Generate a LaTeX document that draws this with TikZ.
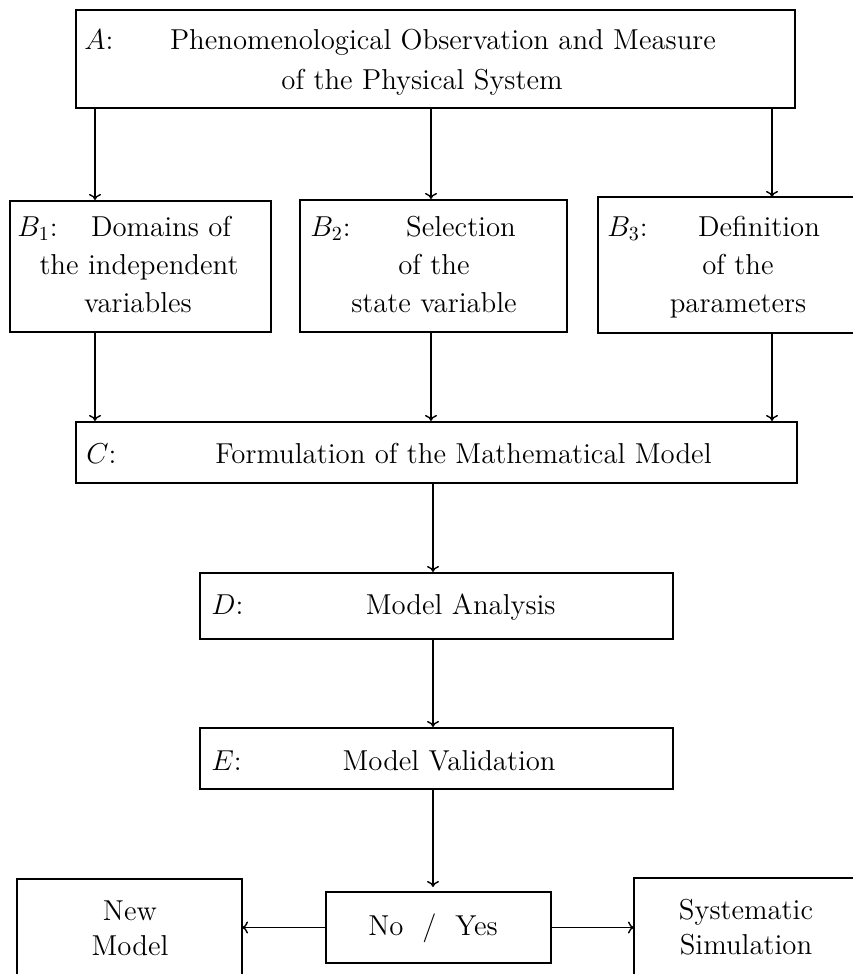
\documentclass[tikz,border=0pt]{standalone}
\usetikzlibrary{arrows.meta}
\begin{document}
\begin{tikzpicture}[x=0.5pt,y=-0.5pt,
  every node/.style={font=\fontsize{14.4}{17}\selectfont},
  boxline/.style={line width=1pt},
  frame/.style={draw, boxline, rectangle, inner sep=0pt, anchor=center},
  openframe/.style={draw=none, rectangle, inner sep=0pt, outer sep=0pt, anchor=center},
  txt/.style={inner sep=0pt, anchor=base},
  lbl/.style={inner sep=0pt, anchor=base west},
  rtxt/.style={inner sep=0pt, anchor=base east},
  arr/.style={line width=0.7pt, -{To[length=3pt,width=6pt]}}
]
\useasboundingbox (0,0) rectangle (853,974);
\fill[white] (0,0) rectangle (853,974);

% boxes
\node[frame, minimum width=359.5pt, minimum height=49pt] (A) at (435.5,59) {};
\node[frame, minimum width=130.5pt, minimum height=65.5pt] (B1) at (140.5,266.5) {};
\node[frame, minimum width=133.5pt, minimum height=66pt] (B2) at (433.5,266) {};
\node[openframe, minimum width=127.5pt, minimum height=68pt] (B3) at (725.5,265) {};
\draw[boxline] (B3.north east) -- (B3.north west) -- (B3.south west) -- (B3.south east);
\node[frame, minimum width=360.5pt, minimum height=30.5pt] (C) at (436.5,452.5) {};
\node[frame, minimum width=236.5pt, minimum height=33pt] (D) at (436.5,606) {};
\node[frame, minimum width=236.5pt, minimum height=30.5pt] (E) at (436.5,758.5) {};
\node[frame, minimum width=112.5pt, minimum height=35.5pt] (NY) at (438.5,927.5) {};
\node[openframe, minimum width=112.5pt, minimum height=47.5pt] (New) at (129.5,926.5) {};
\draw[boxline] (New.south west) -- (New.north west) -- (New.north east) -- (New.south east);
\node[openframe, minimum width=109.5pt, minimum height=48pt] (Sys) at (743.5,926) {};
\draw[boxline] (Sys.north east) -- (Sys.north west) -- (Sys.south west);

% texts
\node[lbl] (Al) at (84,50) {$A$:};
\node[txt] (At1) at (443,50) {Phenomenological Observation and Measure};
\node[txt] (At2) at (422,90) {of the Physical System};

\node[lbl] (B1l) at (17,236) {$B_1$:};
\node[txt] (B1t1) at (161,236) {Domains of};
\node[txt] (B1t2) at (139,274) {the independent};
\node[txt] (B1t3) at (138,312) {variables};

\node[lbl] (B2l) at (310,236) {$B_2$:};
\node[txt] (B2t1) at (461,236) {Selection};
\node[txt] (B2t2) at (434,274) {of the};
\node[txt] (B2t3) at (434,312) {state variable};

\node[lbl] (B3l) at (607,236) {$B_3$:};
\node[txt] (B3t1) at (759,236) {Definition};
\node[txt] (B3t2) at (738,274) {of the};
\node[txt] (B3t3) at (738,312) {parameters};

\node[lbl] (Cl) at (86,463) {$C$:};
\node[rtxt] (Ct) at (712,463) {Formulation of the Mathematical Model};

\node[lbl] (Dl) at (211,614) {$D$:};
\node[rtxt] (Dt) at (556,614) {Model Analysis};

\node[lbl] (El) at (211,770) {$E$:};
\node[rtxt] (Et) at (556,770) {Model Validation};

\node[txt] (NYt) at (433,935) {No~~/~~Yes};

\node[txt] (Newt1) at (130,920) {New};
\node[txt] (Newt2) at (130,955) {Model};

\node[txt] (Syst1) at (746,919) {Systematic};
\node[txt] (Syst2) at (746,954) {Simulation};

% arrow columns
\coordinate (c1) at (95,0);
\coordinate (c2) at (431,0);
\coordinate (c3) at (772,0);
\coordinate (c4) at (433,0);

\draw[arr] (A.south -| c1) -- (B1.north -| c1);
\draw[arr] (A.south -| c2) -- (B2.north -| c2);
\draw[arr] (A.south -| c3) -- (B3.north -| c3);
\draw[arr] (B1.south -| c1) -- (C.north -| c1);
\draw[arr] (B2.south -| c2) -- (C.north -| c2);
\draw[arr] (B3.south -| c3) -- (C.north -| c3);
\draw[arr] (C.south -| c4) -- (D.north -| c4);
\draw[arr] (D.south -| c4) -- (E.north -| c4);
\draw[arr, shorten >=2pt] (E.south -| c4) -- (NY.north -| c4);
\draw[arr] (NY.west) -- (New.east |- NY.west);
\draw[arr] (NY.east) -- (Sys.west |- NY.east);
\end{tikzpicture}
\end{document}
